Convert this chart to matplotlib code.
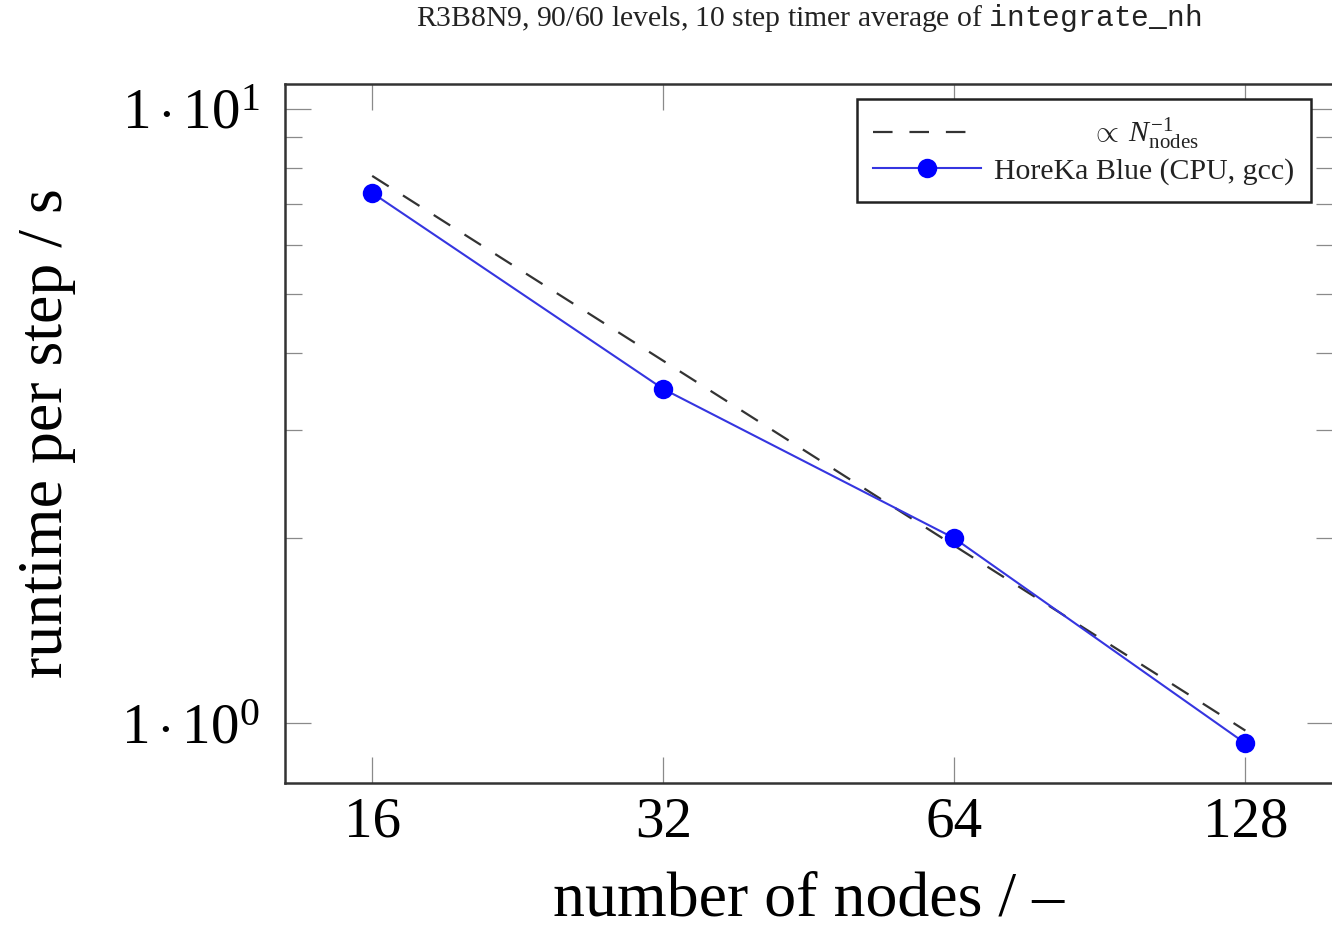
import matplotlib
matplotlib.use("Agg")
import matplotlib.pyplot as plt
from matplotlib.ticker import FixedLocator, FixedFormatter, NullFormatter, NullLocator
from matplotlib.transforms import Affine2D

# Node counts and measured runtime per step (seconds)
nodes = [16, 32, 64, 128]
runtime_cpu = [7.30, 3.50, 2.00, 0.927]
# Ideal strong-scaling reference, proportional to 1/N
ideal_runtime = [7.78, 3.89, 1.945, 0.9725]

x_ticks = [16, 32, 64, 128]
x_tick_labels = ["16", "32", "64", "128"]
y_ticks = [1, 10]
y_tick_labels = [r"$1\cdot10^{0}$", r"$1\cdot10^{1}$"]
y_minor = [2, 3, 4, 5, 6, 7, 8, 9]

title_text = r"R3B8N9, 90/60 levels, 10 step timer average of $\mathtt{integrate\_nh}$"
ideal_label = r"$\propto\;N_{\mathrm{nodes}}^{-1}$"
cpu_label = "HoreKa Blue (CPU, gcc)"

plt.rcParams["font.family"] = ["Liberation Serif", "DejaVu Serif"]
plt.rcParams["mathtext.fontset"] = "custom"
plt.rcParams["mathtext.rm"] = "Liberation Serif"
plt.rcParams["mathtext.it"] = "Liberation Serif:italic"
plt.rcParams["mathtext.bf"] = "Liberation Serif:bold"
plt.rcParams["mathtext.tt"] = "Liberation Mono"

W, H = 1332, 927
fig = plt.figure(figsize=(W / 100, H / 100), dpi=100)
ax = fig.add_axes([285 / W, (H - 783) / H, 1048 / W, 699 / H])

ax.set_xscale("log", base=2)
ax.set_yscale("log", base=10)
ax.set_xlim(13.0, 157.7)
ax.set_ylim(0.799, 10.98)

ax.plot(nodes, ideal_runtime, color="#333333", lw=1.6,
        dashes=(8.8, 7.6), label=ideal_label, zorder=2)
ax.plot(nodes, runtime_cpu, color="#3535e0", lw=1.5, marker="o",
        markersize=14, markerfacecolor="#0000ff", markeredgecolor="#0000ff",
        markeredgewidth=0, label=cpu_label, zorder=3)

ax.xaxis.set_major_locator(FixedLocator(x_ticks))
ax.xaxis.set_major_formatter(FixedFormatter(x_tick_labels))
ax.xaxis.set_minor_locator(NullLocator())
ax.yaxis.set_major_locator(FixedLocator(y_ticks))
ax.yaxis.set_major_formatter(FixedFormatter(y_tick_labels))
ax.yaxis.set_minor_locator(FixedLocator(y_minor))
ax.yaxis.set_minor_formatter(NullFormatter())

ax.tick_params(axis="both", which="major", direction="in", length=19,
               width=0.9, color="#8a8a8a", labelsize=41,
               top=True, right=True)
ax.tick_params(axis="both", which="minor", direction="in", length=12,
               width=0.9, color="#8a8a8a", right=True)
ax.tick_params(axis="x", which="major", pad=10)
ax.tick_params(axis="y", which="major", pad=18)

for sp in ax.spines.values():
    sp.set_color("#333333")
    sp.set_linewidth(1.8)

ax.set_xlabel("number of nodes / –", fontsize=46)
ax.set_ylabel("runtime per step / s", fontsize=46)
ax.xaxis.set_label_coords(0.5, -0.126)
ax.yaxis.set_label_coords(-0.199, 0.5)

fig.text(809 / W, 1 - 26 / H, title_text, fontsize=21.3, ha="center",
         va="baseline", color="#222222")

leg = ax.legend(loc="upper right", bbox_to_anchor=(0.979, 0.9785),
                borderaxespad=0, fontsize=21.5, frameon=True, fancybox=False,
                framealpha=1, edgecolor="#222222", handlelength=3.6,
                handletextpad=0.45, borderpad=0.55, labelspacing=0.2)
leg.get_frame().set_linewidth(1.8)
for t in leg.get_texts():
    t.set_color("#222222")

# Centre the first legend entry's text within the text column
fig.canvas.draw()
texts = leg.get_texts()
w0 = texts[0].get_window_extent().width
w1 = texts[1].get_window_extent().width
dx = (w1 - w0) / 2
texts[0].set_transform(texts[0].get_transform() + Affine2D().translate(dx, 0))

fig.savefig("out.png", dpi=100)
